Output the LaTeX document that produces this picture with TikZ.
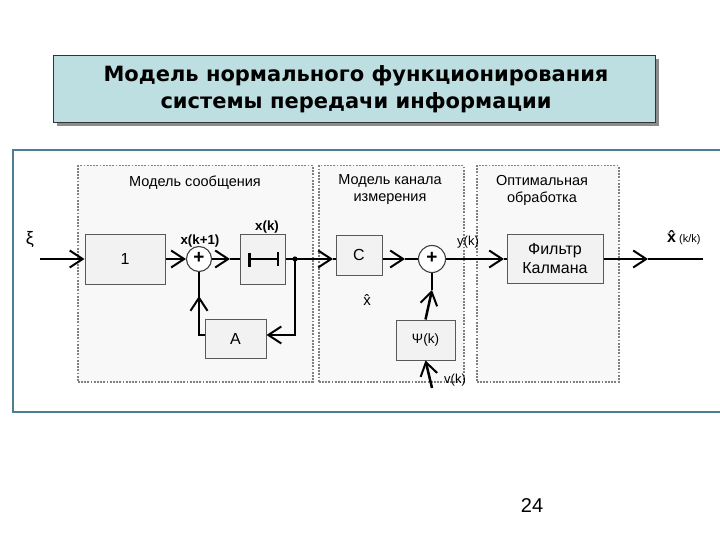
\documentclass[tikz,border=0pt]{standalone}
\usepackage{fontspec}
\setmainfont{Liberation Sans}
\newfontfamily\titlefont{DejaVu Sans}
\usetikzlibrary{arrows.meta}
\definecolor{titlefill}{RGB}{190,223,226}
\definecolor{framec}{RGB}{76,126,146}
\definecolor{blockfill}{RGB}{242,242,242}
\definecolor{regionfill}{RGB}{248,248,248}
\tikzset{
  block/.style={draw=black!65, line width=1pt, fill=blockfill, minimum width=#1, inner sep=0pt},
  region/.style={draw=black!50, line width=1.5pt, dash pattern=on 1.8pt off 1.4pt, fill=regionfill},
  sig/.style={line width=2.5pt},
  arr/.style={sig, -{Straight Barb[length=13pt,width=17pt,line width=2pt]}},
  summer/.style={circle, draw=black!75, line width=1.1pt, fill=white, minimum size=#1, inner sep=0pt},
  lbl/.style={font=\fontsize{14.5}{17}\selectfont, inner sep=0pt},
  blbl/.style={font=\fontsize{13.3}{15}\selectfont\bfseries, inner sep=0pt}
}
\begin{document}
\begin{tikzpicture}[x=1pt,y=-1pt]
\useasboundingbox (0,0) rectangle (720,540);
% title
\fill[black!45] (57,59) rectangle (659,126);
\node[draw=black!80, line width=0.9pt, fill=titlefill, minimum width=602pt, minimum height=67pt, inner sep=0pt, anchor=north west] (title) at (53,55) {};
\node[font=\titlefont\bfseries\fontsize{21}{27}\selectfont, align=center] (ttext) at (356,89) {Модель нормального функционирования\\системы передачи информации};
% outer frame
\draw[framec, line width=1.8pt] (721,150) -- (13,150) -- (13,412) -- (721,412);
% regions
\node[region, anchor=north west, minimum width=235pt, minimum height=216pt] (r1) at (77,165) {};
\node[region, anchor=north west, minimum width=145pt, minimum height=216pt] (r2) at (318,165) {};
\node[region, anchor=north west, minimum width=142pt, minimum height=216pt] (r3) at (476,165) {};
\node[lbl, align=center] (r1t) at (195,183) {Модель сообщения};
\node[lbl, align=center] (r2t) at (390,190) {Модель канала\\измерения};
\node[lbl, align=center] (r3t) at (542,190) {Оптимальная\\обработка};
% blocks
\node[block=80pt, minimum height=50pt, font=\fontsize{16}{18}\selectfont] (b1) at (125,259) {1};
\node[summer=25pt] (s1) at (199,259) {};
\node[font=\fontsize{19}{19}\selectfont\bfseries, inner sep=0pt] at (199,258) {+};
\node[block=45pt, minimum height=50pt] (d) at (262.5,259) {};
\draw[line width=2.2pt] (249,259) -- (278,259);
\draw[line width=3pt] (249,253) -- (249,267);
\draw[line width=2.2pt] (278,252) -- (278,266);
\node[block=61pt, minimum height=39pt, font=\fontsize{16}{18}\selectfont] (A) at (235.5,339) {A};
\node[block=46pt, minimum height=40pt, font=\fontsize{16}{18}\selectfont] (C) at (359,255) {C};
\node[summer=27pt] (s2) at (432,259) {};
\node[font=\fontsize{19}{19}\selectfont\bfseries, inner sep=0pt] at (432,258) {+};
\node[block=59pt, minimum height=40pt, font=\fontsize{13.5}{16}\selectfont] (psi) at (425.5,340) {Ψ(k)};
\node[block=96pt, minimum height=49pt, align=center, font=\fontsize{16}{19}\selectfont] (K) at (555,259) {Фильтр\\Калмана};
% coordinates
\coordinate (in) at (40,259);
\coordinate (t1) at (230,259);
\coordinate (j) at (295,259);
\coordinate (jd) at (295,335);
\coordinate (t2) at (333,259);
\coordinate (t3) at (405,259);
\coordinate (t4) at (504,259);
\coordinate (t5) at (648,259);
\coordinate (out) at (703,259);
\coordinate (fa) at (199,335);
\coordinate (t6) at (199,296);
\coordinate (t7) at (432,290);
\coordinate (vin) at (432,388);
% signals
\draw[arr] (in) -- (b1.west);
\draw[arr] (b1.east) -- (s1.west);
\draw[arr] (s1.east) -- (t1);
\draw[sig] (t1) -- (d.west);
\draw[sig] (d.east) -- (j);
\draw[arr] (j) -- (t2);
\draw[sig] (t2) -- (C.west |- t2);
\draw[arr] (j) -- (jd) -- (A.east |- jd);
\draw[sig] (A.west |- fa) -- (fa) -- (t6);
\draw[arr] (fa) -- (t6);
\draw[sig] (t6) -- (s1.south);
\draw[arr] (C.east |- t3) -- (t3);
\draw[sig] (t3) -- (s2.west);
\draw[arr] (s2.east) -- (t4);
\draw[sig] (t4) -- (K.west);
\draw[arr] (K.east) -- (t5);
\draw[sig] (t5) -- (out);
\draw[arr] (psi.north) -- (t7);
\draw[sig] (t7) -- (s2.south);
\draw[arr] (vin) -- (psi.south);
\fill (j) circle (2.6pt);
% labels
\node[lbl, font=\fontsize{18}{18}\selectfont] (xi) at (30,240) {ξ};
\node[blbl] (xk1) at (200,241) {x(k+1)};
\node[blbl] (xk) at (267,227) {x(k)};
\node[lbl, font=\fontsize{15}{17}\selectfont] (xh) at (367,300) {\^{x}};
\node[lbl, font=\fontsize{13}{15}\selectfont] (yk) at (468,242) {y(k)};
\node[lbl, font=\fontsize{13}{15}\selectfont] (vk) at (455,380) {v(k)};
\node[lbl, anchor=base west, font=\fontsize{16}{18}\selectfont\bfseries] (xo) at (667,243) {\^{x}};
\node[lbl, anchor=base west, font=\fontsize{11}{13}\selectfont] (xok) at (679,243) {(k/k)};
\node[font=\fontsize{20}{22}\selectfont] (pg) at (532,506) {24};
\end{tikzpicture}
\end{document}
